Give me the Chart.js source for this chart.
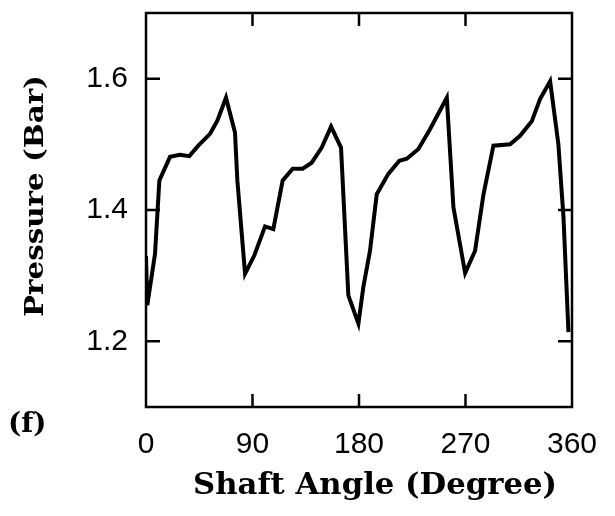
<!DOCTYPE html>
<html>
<head>
<meta charset="utf-8">
<script src="https://cdn.jsdelivr.net/npm/chart.js@4.4.1/dist/chart.umd.min.js"></script>
<style>
  html, body { margin: 0; padding: 0; background: #fff; }
</style>
</head>
<body>
<canvas id="pressureChart" width="615" height="516"></canvas>
<script>
// shaft angle (deg) and pressure (bar)
const angles = [0, 1.1, 7.6, 11.3, 20.3, 28.7, 36.6, 44.2, 54.1, 60.3, 67.6, 75.2, 77.2, 83.7,
  91.6, 100.6, 107.6, 115.5, 124, 132.4, 140, 148.5, 156.4, 164.8, 171, 179.5,
  183.7, 189.3, 195, 204.8, 214.1, 220.4, 230.2, 240, 254.2, 259.8, 269.7,
  278.1, 285.2, 293.6, 307.7, 316.1, 326, 333, 341.5, 348.5, 352.8, 357];
const pressure = [1.33, 1.255, 1.333, 1.445, 1.481, 1.484, 1.482, 1.498, 1.516, 1.536, 1.571, 1.518, 1.445, 1.303,
  1.331, 1.375, 1.371, 1.445, 1.463, 1.463, 1.472, 1.495, 1.527, 1.495, 1.270, 1.227,
  1.283, 1.338, 1.424, 1.455, 1.475, 1.478, 1.493, 1.523, 1.571, 1.404, 1.304,
  1.338, 1.424, 1.498, 1.500, 1.513, 1.535, 1.569, 1.596, 1.500, 1.389, 1.214];
const xTicks = [0, 90, 180, 270, 360];
const yTicks = [1.2, 1.4, 1.6];
const xTitle = 'Shaft Angle (Degree)';
const yTitle = 'Pressure (Bar)';
const panelLabel = '(f)';

const points = angles.map((a, i) => ({ x: a, y: pressure[i] }));

// draws the box, the inward tick marks and the text in the old plotter font
const frameAndText = {
  id: 'frameAndText',
  afterDraw(chart) {
    const { ctx, chartArea: a, scales: { x, y } } = chart;
    ctx.save();
    ctx.strokeStyle = '#000';
    ctx.lineWidth = 2.5;
    ctx.strokeRect(a.left, a.top, a.right - a.left, a.bottom - a.top);

    ctx.beginPath();
    xTicks.slice(1, -1).forEach(v => {
      const px = x.getPixelForValue(v);
      ctx.moveTo(px, a.bottom); ctx.lineTo(px, a.bottom - 13);
      ctx.moveTo(px, a.top); ctx.lineTo(px, a.top + 13);
    });
    yTicks.forEach(v => {
      const py = y.getPixelForValue(v);
      ctx.moveTo(a.left, py); ctx.lineTo(a.left + 14, py);
      ctx.moveTo(a.right, py); ctx.lineTo(a.right - 14, py);
    });
    ctx.stroke();

    ctx.fillStyle = '#000';
    ctx.textBaseline = 'alphabetic';
    ctx.font = 'bold 30px "DejaVu Serif"';

    // x title, squeezed to the width it has in the figure
    let w = ctx.measureText(xTitle).width;
    ctx.save();
    ctx.translate(375, 494);
    ctx.scale(364 / w, 1);
    ctx.textAlign = 'center';
    ctx.fillText(xTitle, 0, 0);
    ctx.restore();

    // y title
    ctx.font = 'bold 26px "DejaVu Serif"';
    w = ctx.measureText(yTitle).width;
    ctx.save();
    ctx.translate(43, 196);
    ctx.rotate(-Math.PI / 2);
    ctx.scale(242 / w, 1);
    ctx.textAlign = 'center';
    ctx.fillText(yTitle, 0, 0);
    ctx.restore();

    ctx.font = 'bold 28px "DejaVu Serif"';
    ctx.textAlign = 'left';
    ctx.fillText(panelLabel, 8, 432);
    ctx.restore();
  }
};

new Chart(document.getElementById('pressureChart'), {
  type: 'line',
  data: {
    datasets: [{
      data: points,
      borderColor: '#000',
      borderWidth: 4,
      pointRadius: 0,
      tension: 0,
      fill: false
    }]
  },
  options: {
    responsive: false,
    animation: false,
    layout: { autoPadding: false, padding: { top: 13, right: 43, left: 0, bottom: 0 } },
    plugins: { legend: { display: false }, tooltip: { enabled: false } },
    scales: {
      x: {
        type: 'linear',
        min: 0,
        max: 360,
        afterBuildTicks: s => { s.ticks = xTicks.map(v => ({ value: v })); },
        afterFit: s => { s.height = 109; s.paddingLeft = 0; s.paddingRight = 0; },
        grid: { display: false, drawTicks: false },
        border: { display: false },
        ticks: {
          color: '#000',
          padding: 20,
          maxRotation: 0,
          font: { family: '"Liberation Sans", Arial, sans-serif', size: 30 }
        }
      },
      y: {
        min: 1.1,
        max: 1.7,
        afterBuildTicks: s => { s.ticks = yTicks.map(v => ({ value: v })); },
        afterFit: s => { s.width = 146; s.paddingTop = 0; s.paddingBottom = 0; },
        grid: { display: false, drawTicks: false },
        border: { display: false },
        ticks: {
          color: '#000',
          padding: 18,
          callback: v => v.toFixed(1),
          font: { family: '"Liberation Sans", Arial, sans-serif', size: 30 }
        }
      }
    }
  },
  plugins: [frameAndText]
});
</script>
</body>
</html>
